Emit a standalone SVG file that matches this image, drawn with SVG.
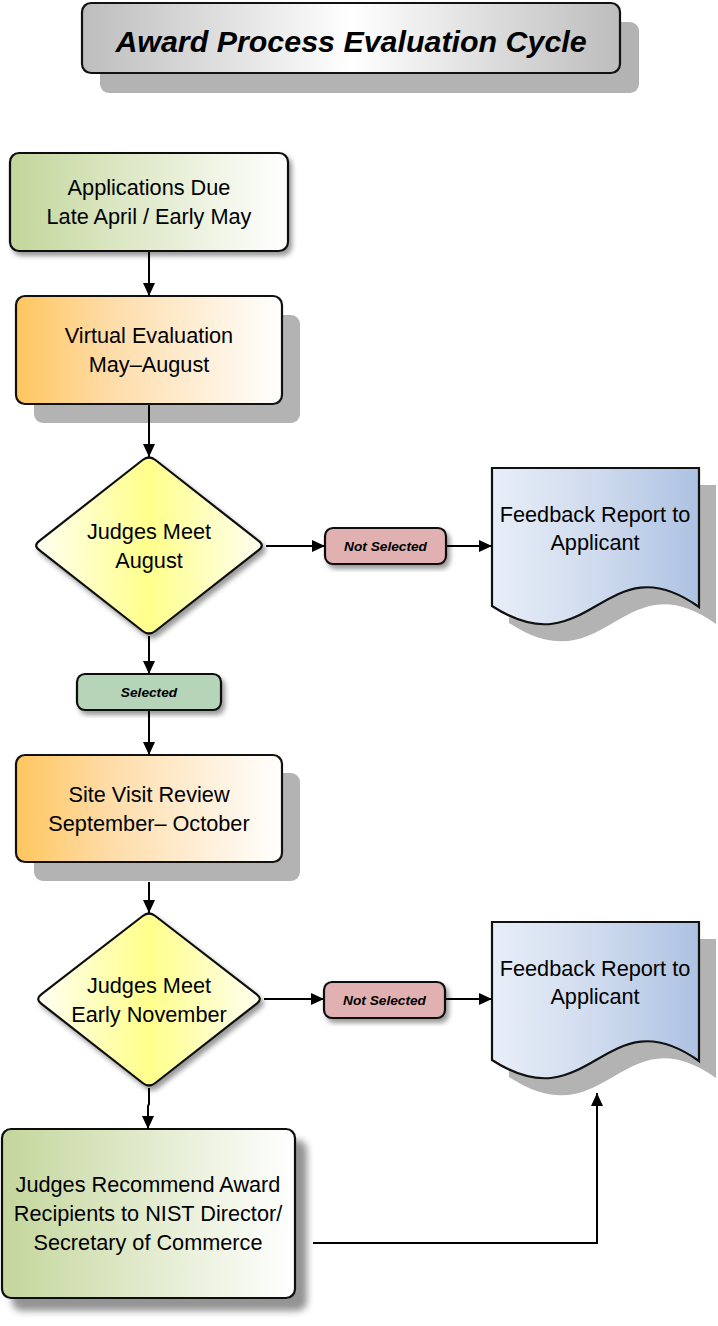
<svg xmlns="http://www.w3.org/2000/svg" width="718" height="1326" viewBox="0 0 718 1326">
<style>
  .box{stroke:#111;stroke-width:2.2}
  .t{font-family:"Liberation Sans",Arial,sans-serif;font-size:21.7px;fill:#000;text-anchor:middle}
  .lab{font-family:"Liberation Sans",Arial,sans-serif;font-size:13.7px;font-weight:bold;font-style:italic;fill:#000;text-anchor:middle}
  .title{font-family:"Liberation Sans",Arial,sans-serif;font-size:30.4px;font-weight:bold;font-style:italic;fill:#000;text-anchor:middle}
  .hs{fill:#b3b3b3}
  .conn{fill:none;stroke:#000;stroke-width:2}
</style>
<defs>
  <linearGradient id="gTitle" x1="0" y1="0" x2="1" y2="0">
    <stop offset="0" stop-color="#bdbdbd"/><stop offset="0.5" stop-color="#ffffff"/><stop offset="1" stop-color="#bdbdbd"/>
  </linearGradient>
  <linearGradient id="gGreen" x1="0" y1="0" x2="1" y2="0">
    <stop offset="0" stop-color="#c3d69b"/><stop offset="0.35" stop-color="#d9e5bf"/><stop offset="1" stop-color="#ffffff"/>
  </linearGradient>
  <linearGradient id="gOrange" x1="0" y1="0" x2="1" y2="0">
    <stop offset="0" stop-color="#ffc65e"/><stop offset="0.35" stop-color="#fedca8"/><stop offset="1" stop-color="#ffffff"/>
  </linearGradient>
  <linearGradient id="gYellow" x1="0" y1="0" x2="1" y2="0">
    <stop offset="0" stop-color="#fffff2"/><stop offset="0.5" stop-color="#ffff8a"/><stop offset="1" stop-color="#fffff0"/>
  </linearGradient>
  <linearGradient id="gBlue" x1="0" y1="0" x2="1" y2="0">
    <stop offset="0" stop-color="#e8eef8"/><stop offset="0.5" stop-color="#cfdbee"/><stop offset="1" stop-color="#adc2e2"/>
  </linearGradient>
  <filter id="softS" x="-10%" y="-10%" width="130%" height="130%">
    <feDropShadow dx="3" dy="4" stdDeviation="2.5" flood-color="#000" flood-opacity="0.4"/>
  </filter>
  <filter id="bigS" x="-10%" y="-10%" width="130%" height="130%">
    <feDropShadow dx="11" dy="12" stdDeviation="3.5" flood-color="#000" flood-opacity="0.42"/>
  </filter>
  <marker id="arr" viewBox="0 0 13 12" refX="13" refY="6" markerWidth="13" markerHeight="12" markerUnits="userSpaceOnUse" orient="auto">
    <path d="M0,0 L13,6 L0,12 z" fill="#000"/>
  </marker>
  <path id="docShape" d="M492,468 H699 V607 C605,540 590,670 492,606 Z"/>
</defs>

<g id="title">
  <rect class="hs" x="100" y="22" width="539" height="71" rx="9"/>
  <rect class="box" x="82" y="3" width="538" height="70" rx="9" fill="url(#gTitle)"/>
  <text class="title" x="351" y="52">Award Process Evaluation Cycle</text>
</g>

<g id="applications-due">
  <rect class="box" x="10" y="153" width="278" height="98" rx="9" fill="url(#gGreen)" filter="url(#softS)"/>
  <text class="t" x="149" y="195">Applications Due</text>
  <text class="t" x="149" y="224">Late April / Early May</text>
</g>

<g id="virtual-evaluation">
  <rect class="hs" x="34" y="315" width="266" height="108" rx="9"/>
  <rect class="box" x="16" y="296" width="266" height="108" rx="9" fill="url(#gOrange)"/>
  <text class="t" x="149" y="343">Virtual Evaluation</text>
  <text class="t" x="149" y="372">May–August</text>
</g>

<g id="judges-meet-august">
  <path class="box" fill="url(#gYellow)" filter="url(#softS)" d="M142.6,460 Q149,455 155.4,460 L258.6,540.9 Q265,545.5 258.6,550.1 L155.4,631 Q149,636 142.6,631 L39.4,550.1 Q33,545.5 39.4,540.9 Z"/>
  <text class="t" x="149" y="539">Judges Meet</text>
  <text class="t" x="149" y="568">August</text>
</g>

<g id="not-selected-1">
  <rect class="box" x="325" y="528" width="121" height="36" rx="8" fill="#e1b1b1" filter="url(#softS)"/>
  <text class="lab" x="385.5" y="551">Not Selected</text>
</g>

<g id="feedback-1">
  <use href="#docShape" class="hs" transform="translate(17,17)"/>
  <use href="#docShape" class="box" fill="url(#gBlue)"/>
  <text class="t" x="595" y="522">Feedback Report to</text>
  <text class="t" x="595" y="550">Applicant</text>
</g>

<g id="selected">
  <rect class="box" x="77" y="674" width="144" height="36" rx="8" fill="#b5d4b8" filter="url(#softS)"/>
  <text class="lab" x="149" y="697">Selected</text>
</g>

<g id="site-visit-review">
  <rect class="hs" x="34" y="773" width="266" height="108" rx="9"/>
  <rect class="box" x="16" y="755" width="266" height="107" rx="9" fill="url(#gOrange)"/>
  <text class="t" x="149" y="802">Site Visit Review</text>
  <text class="t" x="149" y="831">September– October</text>
</g>

<g id="judges-meet-november">
  <path class="box" fill="url(#gYellow)" filter="url(#softS)" d="M142.7,916 Q149,911 155.3,916 L256.7,994.4 Q263,999 256.7,1003.6 L155.3,1083 Q149,1088 142.7,1083 L41.3,1003.6 Q35,999 41.3,994.4 Z"/>
  <text class="t" x="149" y="993">Judges Meet</text>
  <text class="t" x="149" y="1022">Early November</text>
</g>

<g id="not-selected-2">
  <rect class="box" x="324" y="982" width="121" height="36" rx="8" fill="#e1b1b1" filter="url(#softS)"/>
  <text class="lab" x="384.5" y="1005">Not Selected</text>
</g>

<g id="feedback-2">
  <use href="#docShape" class="hs" transform="translate(17,471)"/>
  <use href="#docShape" class="box" fill="url(#gBlue)" transform="translate(0,454)"/>
  <text class="t" x="595" y="976">Feedback Report to</text>
  <text class="t" x="595" y="1004">Applicant</text>
</g>

<g id="judges-recommend">
  <rect class="box" x="2" y="1129" width="293" height="169" rx="9" fill="url(#gGreen)" filter="url(#bigS)"/>
  <text class="t" x="148" y="1192">Judges Recommend Award</text>
  <text class="t" x="148" y="1221">Recipients to NIST Director/</text>
  <text class="t" x="148" y="1250">Secretary of Commerce</text>
</g>

<g id="connectors">
  <line class="conn" x1="149" y1="252" x2="149" y2="296" marker-end="url(#arr)"/>
  <line class="conn" x1="149" y1="405" x2="149" y2="457" marker-end="url(#arr)"/>
  <line class="conn" x1="266" y1="546" x2="325" y2="546" marker-end="url(#arr)"/>
  <line class="conn" x1="447" y1="546" x2="492" y2="546" marker-end="url(#arr)"/>
  <line class="conn" x1="149" y1="636" x2="149" y2="674" marker-end="url(#arr)"/>
  <line class="conn" x1="149" y1="711" x2="149" y2="755" marker-end="url(#arr)"/>
  <line class="conn" x1="149" y1="882" x2="149" y2="913" marker-end="url(#arr)"/>
  <line class="conn" x1="264" y1="999" x2="324" y2="999" marker-end="url(#arr)"/>
  <line class="conn" x1="446" y1="999" x2="492" y2="999" marker-end="url(#arr)"/>
  <polyline class="conn" points="149,1088 149,1104 148,1106 148,1129" marker-end="url(#arr)"/>
  <polyline class="conn" points="313,1243 597,1243 597,1093" marker-end="url(#arr)"/>
</g>
</svg>
